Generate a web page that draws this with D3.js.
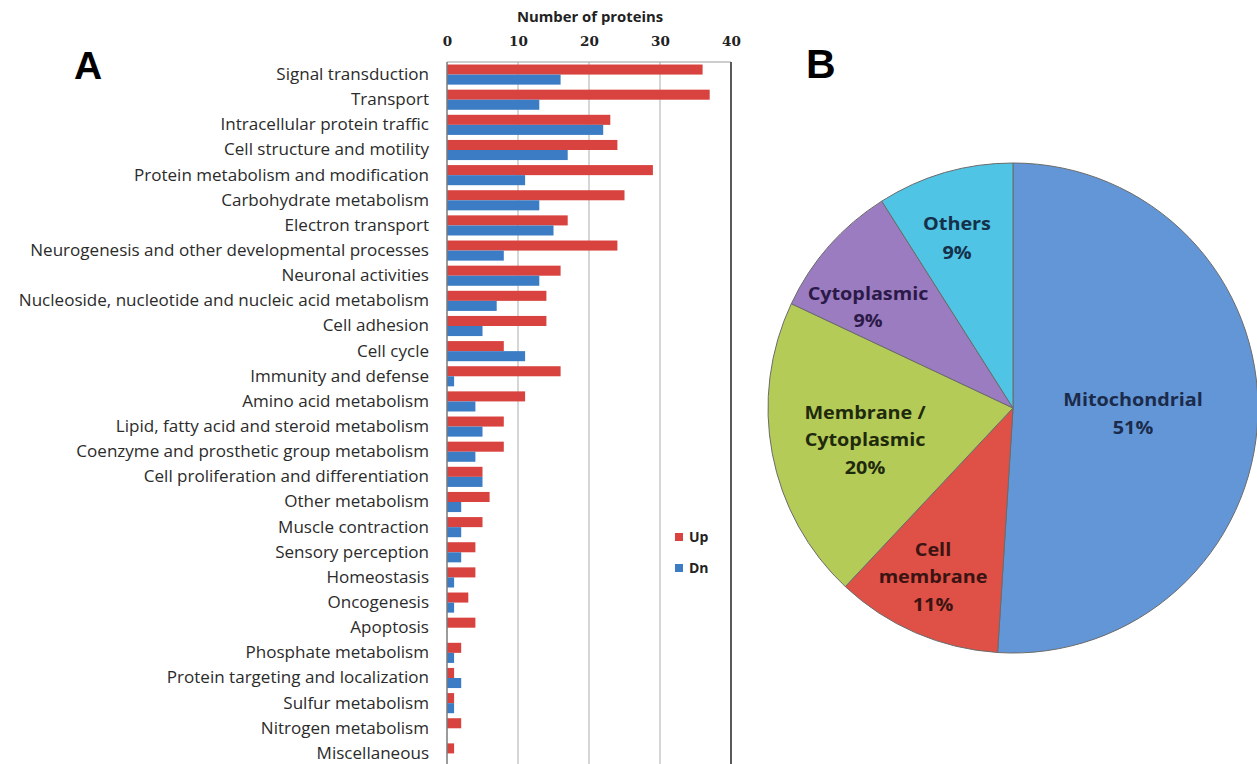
<!DOCTYPE html>
<html>
<head>
<meta charset="utf-8">
<script src="https://cdn.jsdelivr.net/npm/d3@7"></script>
<style>
  html, body { margin: 0; padding: 0; background: #fff; }
  svg { display: block; }
</style>
</head>
<body>
<svg id="chart" width="1257" height="764"></svg>
<script>
// Biological process categories (panel A)
const categories = [
  "Signal transduction", "Transport", "Intracellular protein traffic",
  "Cell structure and motility", "Protein metabolism and modification",
  "Carbohydrate metabolism", "Electron transport",
  "Neurogenesis and other developmental processes", "Neuronal activities",
  "Nucleoside, nucleotide and nucleic acid metabolism", "Cell adhesion",
  "Cell cycle", "Immunity and defense", "Amino acid metabolism",
  "Lipid, fatty acid and steroid metabolism",
  "Coenzyme and prosthetic group metabolism",
  "Cell proliferation and differentiation", "Other metabolism",
  "Muscle contraction", "Sensory perception", "Homeostasis", "Oncogenesis",
  "Apoptosis", "Phosphate metabolism", "Protein targeting and localization",
  "Sulfur metabolism", "Nitrogen metabolism", "Miscellaneous"
];
const upValues = [36, 37, 23, 24, 29, 25, 17, 24, 16, 14, 14, 8, 16, 11, 8, 8, 5, 6, 5, 4, 4, 3, 4, 2, 1, 1, 2, 1];
const dnValues = [16, 13, 22, 17, 11, 13, 15, 8, 13, 7, 5, 11, 1, 4, 5, 4, 5, 2, 2, 2, 1, 1, 0, 1, 2, 1, 0, 0];
const seriesNames = ["Up", "Dn"];
const xTicks = [0, 10, 20, 30, 40];

// Subcellular localisation (panel B)
const pieLabels = [["Mitochondrial", "51%"], ["Cell", "membrane", "11%"],
                   ["Membrane /", "Cytoplasmic", "20%"], ["Cytoplasmic", "9%"], ["Others", "9%"]];
const pieValues = [51, 11, 20, 9, 9];

const svg = d3.select("#chart");
const labelFont = "'Open Sans', 'Noto Sans', sans-serif";

// ---------- Panel A: grouped horizontal bars ----------
const barColors = { Up: "#d8433f", Dn: "#3b7cc4" };
const x = d3.scaleLinear().domain([0, 40]).range([447, 731]);
const y = d3.scaleBand().domain(categories).range([62, 766]).paddingInner(0.2).paddingOuter(0.1);
const ySub = d3.scaleBand().domain(seriesNames).range([0, y.bandwidth()]);

const gA = svg.append("g");

// vertical gridlines
gA.selectAll("line.grid").data([10, 20, 30]).join("line")
  .attr("x1", d => x(d)).attr("x2", d => x(d))
  .attr("y1", 62).attr("y2", 764)
  .attr("stroke", "#c8c8c8").attr("stroke-width", 1.5);

// frame: top line and right border
gA.append("line").attr("x1", x(0)).attr("x2", x(40)).attr("y1", 62).attr("y2", 62)
  .attr("stroke", "#9a9a9a").attr("stroke-width", 1);
gA.append("line").attr("x1", x(40)).attr("x2", x(40)).attr("y1", 62).attr("y2", 764)
  .attr("stroke", "#5a5a5a").attr("stroke-width", 2);

const rows = gA.selectAll("g.row").data(categories).join("g")
  .attr("class", "row")
  .attr("transform", d => `translate(0,${y(d)})`);

rows.selectAll("rect").data((d, i) => [
    { s: "Up", v: upValues[i] }, { s: "Dn", v: dnValues[i] }
  ]).join("rect")
  .attr("x", x(0))
  .attr("y", d => ySub(d.s))
  .attr("width", d => x(d.v) - x(0))
  .attr("height", ySub.bandwidth())
  .attr("fill", d => barColors[d.s]);

// left axis line
gA.append("line").attr("x1", x(0)).attr("x2", x(0)).attr("y1", 62).attr("y2", 764)
  .attr("stroke", "#7a7a7a").attr("stroke-width", 1.5);

// category labels (slightly widened glyphs)
const catG = gA.append("g").attr("transform", "translate(429,0) scale(1.1,1)");
catG.selectAll("text.cat").data(categories).join("text")
  .attr("class", "cat")
  .attr("x", 0)
  .attr("y", d => y(d) + y.bandwidth() / 2)
  .attr("dy", "0.35em")
  .attr("text-anchor", "end")
  .attr("font-family", labelFont)
  .attr("font-size", 15.5)
  .attr("fill", "#2b2b2b")
  .text(d => d);

// top axis
const axis = gA.append("g").attr("transform", "translate(0,46)")
  .call(d3.axisTop(x).tickValues(xTicks).tickSize(0).tickPadding(0));
axis.select(".domain").remove();
axis.selectAll("text")
  .attr("font-family", "'DejaVu Serif', 'Liberation Serif', serif")
  .attr("font-size", 13.5)
  .attr("font-weight", "bold")
  .attr("fill", "#222");

gA.append("g").attr("transform", "translate(590,22) scale(1.1,1)")
  .append("text")
  .attr("text-anchor", "middle")
  .attr("font-family", labelFont)
  .attr("font-size", 13.5)
  .attr("font-weight", "bold")
  .attr("fill", "#222")
  .text("Number of proteins");

// legend
const leg = gA.selectAll("g.leg").data(seriesNames).join("g")
  .attr("class", "leg")
  .attr("transform", (d, i) => `translate(675,${537 + i * 31})`);
leg.append("rect").attr("x", 0).attr("y", -4).attr("width", 8).attr("height", 8)
  .attr("fill", d => barColors[d]);
leg.append("text").attr("x", 14).attr("dy", "0.35em")
  .attr("font-family", labelFont).attr("font-size", 14).attr("font-weight", "bold")
  .attr("fill", "#222").text(d => d);

// panel letter
svg.append("text").attr("x", 74).attr("y", 79)
  .attr("font-family", "'Liberation Sans', Arial, sans-serif")
  .attr("font-size", 39).attr("font-weight", "bold").text("A");

// ---------- Panel B: pie ----------
const pieColors = ["#6396d6", "#df5046", "#b5cb58", "#9b7cc0", "#4fc4e4"];
const textColors = ["#1b2b4b", "#3a1412", "#1f2a0c", "#2b1a48", "#16304a"];
const cx = 1013, cy = 408, R = 245;
const pie = d3.pie().sort(null).value(d => d);
const arcs = pie(pieValues);
const arc = d3.arc().innerRadius(0).outerRadius(R);

const gB = svg.append("g").attr("transform", `translate(${cx},${cy})`);
gB.selectAll("path").data(arcs).join("path")
  .attr("d", arc)
  .attr("fill", (d, i) => pieColors[i])
  .attr("stroke", "#6b6b6b")
  .attr("stroke-width", 1);

// label positions (offset from pie centre) and line spacing
const labelPos = [[120, 6], [-80, 169], [-148, 32], [-145, -101], [-56, -170]];
const lineGap = [28, 27.5, 27.5, 27, 29];
const labelG = gB.selectAll("g.pl").data(pieLabels).join("g")
  .attr("class", "pl")
  .attr("transform", (d, i) => `translate(${labelPos[i][0]},${labelPos[i][1]}) scale(1.1,1)`);
labelG.each(function(lines, i) {
  const g = d3.select(this);
  const gap = lineGap[i];
  const off = -(lines.length - 1) * gap / 2;
  g.selectAll("text").data(lines).join("text")
    .attr("y", (d, j) => off + j * gap)
    .attr("dy", "0.35em")
    .attr("text-anchor", "middle")
    .attr("font-family", labelFont)
    .attr("font-size", 18)
    .attr("font-weight", "bold")
    .attr("fill", textColors[i])
    .text(d => d);
});

svg.append("text").attr("x", 806).attr("y", 78)
  .attr("font-family", "'Liberation Sans', Arial, sans-serif")
  .attr("font-size", 41).attr("font-weight", "bold").text("B");
</script>
</body>
</html>
